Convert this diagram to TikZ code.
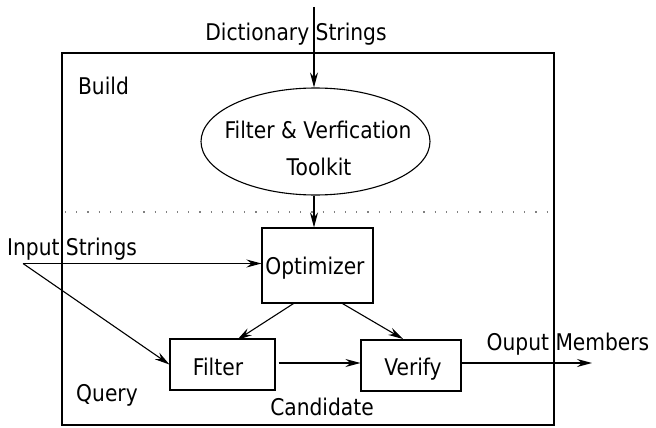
\documentclass[tikz,border=0pt]{standalone}
\usepackage{fontspec}
\setmainfont{DejaVu Sans}[FakeStretch=0.88]
\usetikzlibrary{shapes.geometric,arrows.meta}
\begin{document}
\begin{tikzpicture}[x=1pt,y=-1pt,
  every node/.style={font=\fontsize{23}{35}\selectfont, inner sep=0pt},
  lbl/.style={anchor=base},
  boxn/.style={draw, line width=1.1pt},
  arr/.style={draw, line width=1.1pt, -{Stealth[length=15pt,width=8pt,inset=5pt]}},
  ln/.style={draw, line width=1.1pt}]
\useasboundingbox (0,0) rectangle (656,428);
% outer frame
\draw[line width=1.1pt] (62,53) rectangle (554,425);
% dotted separator
\draw[gray, line width=1.2pt, dash pattern=on 1.2pt off 10pt] (65,212) -- (548,212);

% texts
\node[lbl] (dict) at (296,41) {Dictionary Strings};
\node[lbl] (build) at (103.5,95) {Build};
\node[lbl] (query) at (107,401) {Query};
\node[lbl] (cand) at (322,415) {Candidate};
\node[lbl] (input) at (72,255) {Input Strings};
\node[lbl] (outm) at (568,350) {Ouput Members};

% shapes
\node[ellipse, draw, line width=1.1pt, minimum width=229pt, minimum height=107pt] (tk) at (315.5,141.5) {};
\node[lbl] (tk1) at (318,138) {Filter \& Verfication};
\node[lbl] (tk2) at (319,175) {Toolkit};

\node[boxn, minimum width=111pt, minimum height=75pt] (opt) at (317.5,265.5) {};
\node[lbl] at (315,274) {Optimizer};
\node[boxn, minimum width=105pt, minimum height=51pt] (fil) at (222.5,364.5) {};
\node[lbl] at (218,375) {Filter};
\node[boxn, minimum width=100pt, minimum height=51pt] (ver) at (411,365.5) {};
\node[lbl] at (413,375) {Verify};

% coordinates
\coordinate (top) at (314,7);
\coordinate (src) at (23,263.5);
\coordinate (out) at (592,363);

% connectors
\draw[arr] (top) -- (tk.north -| top);
\draw[arr] (tk.south -| top) -- (opt.north -| top);
\draw[arr] (src) -- (opt.west |- src);
\draw[arr] (src) -- (fil.west);
\draw[arr] ([xshift=-24pt]opt.south) -- (237,340);
\draw[arr] ([xshift=25pt]opt.south) -- (403,339);
\draw[arr] ([xshift=3pt]fil.east |- 0,363) -- (ver.west |- 0,363);
\draw[arr] (ver.east |- 0,363) -- (out);
\end{tikzpicture}
\end{document}
